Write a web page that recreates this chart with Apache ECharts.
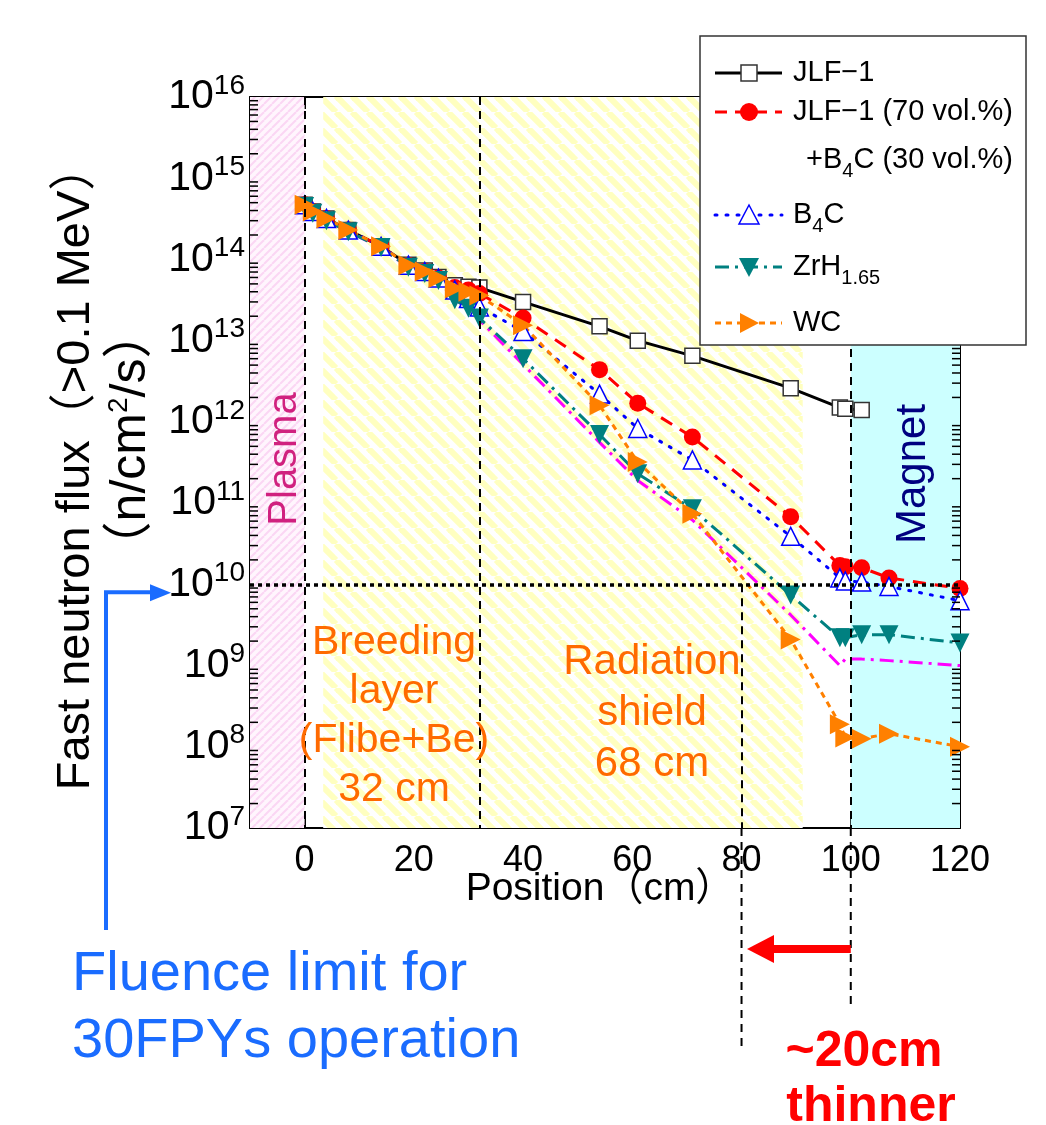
<!DOCTYPE html>
<html><head><meta charset="utf-8">
<script src="https://cdn.jsdelivr.net/npm/echarts@6/dist/echarts.min.js"></script>
<style>html,body{margin:0;padding:0;background:#fff}#c{width:1046px;height:1125px}</style>
</head><body><div id="c"></div>
<script>
// ---------------- data ----------------
const positions = [0, 1.5, 4, 8, 14, 19, 22, 24.5, 27.5, 30, 32, 40, 54, 61, 71, 89, 98, 99, 102, 107, 120];
const positionsJLF = [0, 1.5, 4, 8, 14, 19, 22, 24.5, 27.5, 30, 32, 40, 54, 61, 71, 89, 98, 99, 102];
const jlf1 =    [4.7e14, 3.9e14, 3.2e14, 2.3e14, 1.45e14, 8.6e13, 7.3e13, 6.1e13, 4.8e13, 4.6e13, 4.5e13, 3.0e13, 1.5e13, 1.0e13, 6.5e12, 2.6e12, 1.5e12, 1.45e12, 1.4e12];
const jlfB4c =  [4.7e14, 3.9e14, 3.2e14, 2.3e14, 1.45e14, 8.5e13, 7.1e13, 5.9e13, 4.5e13, 4.2e13, 3.8e13, 1.9e13, 4.4e12, 1.7e12, 6.5e11, 6.8e10, 1.7e10, 1.65e10, 1.6e10, 1.2e10, 8.9e9];
const b4c =     [4.7e14, 3.9e14, 3.2e14, 2.3e14, 1.45e14, 8.5e13, 7.1e13, 5.9e13, 4.2e13, 3.3e13, 2.6e13, 1.3e13, 2.2e12, 8.3e11, 3.4e11, 3.9e10, 1.2e10, 1.1e10, 1.07e10, 9.4e9, 6.3e9];
const zrh165 =  [4.5e14, 3.7e14, 3.0e14, 2.2e14, 1.4e14, 8.0e13, 6.7e13, 5.5e13, 3.2e13, 2.5e13, 1.9e13, 6.0e12, 7.0e11, 2.3e11, 8.5e10, 7.4e9, 2.2e9, 2.2e9, 2.4e9, 2.4e9, 1.9e9];
const unlabeled=[4.5e14, 3.7e14, 3.0e14, 2.2e14, 1.4e14, 8.0e13, 6.7e13, 5.5e13, 3.2e13, 2.5e13, 1.8e13, 5.1e12, 5.6e11, 1.9e11, 6.2e10, 4.2e9, 1.0e9, 1.2e9, 1.2e9, 1.15e9, 1.0e9];
const wc =      [4.7e14, 3.9e14, 3.2e14, 2.3e14, 1.45e14, 8.5e13, 7.1e13, 5.9e13, 4.4e13, 4.0e13, 3.6e13, 1.55e13, 1.6e12, 3.2e11, 7.4e10, 2.1e9, 1.9e8, 1.3e8, 1.26e8, 1.45e8, 1.0e8];
const yExponents = [7, 8, 9, 10, 11, 12, 13, 14, 15, 16];
const xTickLabels = [0, 20, 40, 60, 80, 100, 120];
const fluenceLimit = 1e10;

// ---------------- helpers ----------------
const pair = (xs, ys) => ys.map((v, i) => [xs[i], v]);
const minorVals = [];
yExponents.slice(0, -1).forEach(e => { for (let k = 2; k <= 9; k++) minorVals.push(k * Math.pow(10, e)); });

function stripes(P, bg, fg, dir, w) {
  const c = document.createElement('canvas');
  c.width = P; c.height = P;
  const g = c.getContext('2d');
  g.fillStyle = bg; g.fillRect(0, 0, P, P);
  g.strokeStyle = fg; g.lineWidth = w;
  for (let k = -1; k <= 1; k++) {
    g.beginPath();
    if (dir === 'back') { g.moveTo(k * P, 0); g.lineTo(k * P + P, P); }
    else { g.moveTo(k * P, P); g.lineTo(k * P + P, 0); }
    g.stroke();
  }
  return c;
}
const yellowPat = { image: stripes(16, '#ffffff', '#ffffc0', 'back', 6), repeat: 'repeat' };
const pinkPat = { image: stripes(8, '#fff5fd', '#fbd6f4', 'fwd', 2), repeat: 'repeat' };

const NARROW = "'Liberation Sans', Arial, sans-serif";
const SANS = "'Liberation Sans', Arial, 'Noto Sans CJK JP', sans-serif";

const chart = echarts.init(document.getElementById('c'), null, { renderer: 'canvas' });

const yAxisBase = {
  type: 'log', logBase: 10, min: 1e7, max: 1e16,
  axisLine: { show: true, onZero: false, lineStyle: { color: '#000', width: 2 } },
  axisTick: { show: true, inside: true, length: 14, lineStyle: { color: '#000', width: 2 } },
  splitLine: { show: false },
};

const option = {
  animation: false,
  backgroundColor: '#fff',
  grid: { left: 250, right: 86, top: 97, bottom: 297, containLabel: false },
  xAxis: [{
    type: 'value', min: -10, max: 120, interval: 10, position: 'bottom',
    axisLine: { onZero: false, lineStyle: { color: '#000', width: 2 } },
    axisTick: { inside: true, length: 12, lineStyle: { color: '#000', width: 2 } },
    splitLine: { show: false },
    axisLabel: {
      margin: 15, color: '#000', fontSize: 36, fontFamily: NARROW,
      formatter: v => (xTickLabels.indexOf(v) >= 0 ? String(v) : '')
    }
  }, {
    type: 'value', min: -10, max: 120, interval: 10, position: 'top',
    axisLine: { onZero: false, lineStyle: { color: '#000', width: 2 } },
    axisTick: { inside: true, length: 12, lineStyle: { color: '#000', width: 2 } },
    splitLine: { show: false }, axisLabel: { show: false }
  }],
  yAxis: [Object.assign({}, yAxisBase, {
    position: 'left',
    axisLabel: {
      margin: 5, color: '#000', fontFamily: NARROW,
      formatter: v => '{b|10}{s|' + Math.round(Math.log10(v)) + '}',
      rich: {
        b: { fontSize: 41, fontFamily: NARROW, color: '#000' },
        s: { fontSize: 28, fontFamily: NARROW, color: '#000', verticalAlign: 'bottom', padding: [0, 0, 22, 0] }
      }
    }
  }), Object.assign({}, yAxisBase, { position: 'right', axisLabel: { show: false } })],
  series: [
    {
      name: 'bg', type: 'line', data: [], z: 1, silent: true,
      markArea: {
        silent: true,
        data: [
          [{ coord: [-10, 1e16], itemStyle: { color: pinkPat } }, { coord: [0, 1e7] }],
          [{ coord: [3.4, 1e16], itemStyle: { color: yellowPat } }, { coord: [91.2, 1e7] }],
          [{ coord: [100, 1e16], itemStyle: { color: '#ccffff' } }, { coord: [120, 1e7] }]
        ]
      },
      markLine: {
        silent: true, symbol: 'none', label: { show: false },
        lineStyle: { color: '#000', width: 2, type: [8, 6] },
        data: [
          [{ coord: [0, 1e16] }, { coord: [0, 1e7] }],
          [{ coord: [32, 1e16] }, { coord: [32, 1e7] }],
          [{ coord: [100, 1e16] }, { coord: [100, 1e7] }],
          [{ coord: [80, fluenceLimit] }, { coord: [80, 1e7] }],
          [{ coord: [-10, fluenceLimit], lineStyle: { width: 3.5, type: [4, 4] } }, { coord: [120, fluenceLimit] }]
        ]
      }
    },
    {
      type: 'custom', silent: true, z: 6,
      data: minorVals.map(v => [-10, v]),
      encode: { x: 0, y: 1 },
      renderItem: (params, api) => {
        const l = api.coord([-10, api.value(1)]);
        const r = api.coord([120, api.value(1)]);
        return { type: 'group', children: [
          { type: 'line', shape: { x1: l[0], y1: l[1], x2: l[0] + 8, y2: l[1] }, style: { stroke: '#000', lineWidth: 1.5 } },
          { type: 'line', shape: { x1: r[0] - 8, y1: r[1], x2: r[0], y2: r[1] }, style: { stroke: '#000', lineWidth: 1.5 } }
        ] };
      }
    },
    {
      name: 'JLF-1', type: 'line', data: pair(positionsJLF, jlf1), z: 3,
      symbol: 'rect', symbolSize: 15,
      itemStyle: { color: '#fff', borderColor: '#333', borderWidth: 1.5 },
      lineStyle: { color: '#000', width: 3 }
    },
    {
      name: 'JLF-1 (70 vol.%) +B4C (30 vol.%)', type: 'line', data: pair(positions, jlfB4c), z: 3,
      symbol: 'circle', symbolSize: 17,
      itemStyle: { color: '#ff0000' },
      lineStyle: { color: '#ff0000', width: 3, type: [13, 9] }
    },
    {
      name: 'B4C', type: 'line', data: pair(positions, b4c), z: 3,
      symbol: 'triangle', symbolSize: 18,
      itemStyle: { color: '#fff', borderColor: '#0000ff', borderWidth: 1.5 },
      lineStyle: { color: '#0000ff', width: 3, type: [2, 9], cap: 'round' }
    },
    {
      name: 'unlabeled', type: 'line', data: pair(positions, unlabeled), z: 3,
      symbol: 'none',
      lineStyle: { color: '#ff00ff', width: 3, type: [14, 6, 3, 6] }
    },
    {
      name: 'ZrH1.65', type: 'line', data: pair(positions, zrh165), z: 3,
      symbol: 'triangle', symbolRotate: 180, symbolSize: 19,
      itemStyle: { color: '#008080' },
      lineStyle: { color: '#008080', width: 3, type: [14, 6, 3, 6] }
    },
    {
      name: 'WC', type: 'line', data: pair(positions, wc), z: 3,
      symbol: 'triangle', symbolRotate: -90, symbolSize: 20,
      itemStyle: { color: '#ff8000' },
      lineStyle: { color: '#ff8000', width: 3, type: [6, 5] }
    }
  ]
};
chart.setOption(option);

// ---------------- annotations ----------------
const p80 = chart.convertToPixel({ gridIndex: 0 }, [80, 1e7]);
const p100 = chart.convertToPixel({ gridIndex: 0 }, [100, 1e7]);
const pLim = chart.convertToPixel({ gridIndex: 0 }, [-10, fluenceLimit]);
const orange = '#ff6a00';
const dash = { stroke: '#000', lineWidth: 2, lineDash: [8, 6] };

const legendX = 715, legendMarkX = 749, legendTextX = 793;
const legendRows = [
  { y: 73, line: { stroke: '#000', lineWidth: 3 }, text: 'JLF−1' },
  { y: 112, line: { stroke: '#ff0000', lineWidth: 3, lineDash: [12, 8] }, text: 'JLF−1 (70 vol.%)' },
  { y: 215, line: { stroke: '#0000ff', lineWidth: 3, lineDash: [2, 9], lineCap: 'round' }, text: 'B{sub|4}C' },
  { y: 267, line: { stroke: '#008080', lineWidth: 3, lineDash: [14, 6, 3, 6] }, text: 'ZrH{sub|1.65}' },
  { y: 323, line: { stroke: '#ff8000', lineWidth: 3, lineDash: [6, 5] }, text: 'WC' }
];
const legRich = { sub: { fontSize: 20, fontFamily: SANS, verticalAlign: 'top', padding: [22, 0, 0, 0] } };
const g = [];
g.push({ type: 'rect', z: 50, shape: { x: 700, y: 36, width: 326, height: 309 }, style: { fill: '#fff', stroke: '#333', lineWidth: 1.5 } });
legendRows.forEach(r => {
  g.push({ type: 'line', z: 51, shape: { x1: legendX, y1: r.y, x2: legendX + 67, y2: r.y }, style: r.line });
  g.push({ type: 'text', z: 52, x: legendTextX, y: r.y, style: { text: r.text, font: '29px ' + SANS, fill: '#000', verticalAlign: 'middle', rich: legRich } });
});
g.push({ type: 'text', z: 52, x: 806, y: 160, style: { text: '+B{sub|4}C (30 vol.%)', font: '29px ' + SANS, fill: '#000', verticalAlign: 'middle', rich: legRich } });
g.push({ type: 'rect', z: 53, shape: { x: legendMarkX - 8, y: 65, width: 16, height: 16 }, style: { fill: '#fff', stroke: '#333', lineWidth: 1.5 } });
g.push({ type: 'circle', z: 53, shape: { cx: legendMarkX, cy: 112, r: 9 }, style: { fill: '#ff0000' } });
g.push({ type: 'polygon', z: 53, shape: { points: [[legendMarkX, 205], [legendMarkX - 10, 224], [legendMarkX + 10, 224]] }, style: { fill: '#fff', stroke: '#0000ff', lineWidth: 1.5 } });
g.push({ type: 'polygon', z: 53, shape: { points: [[legendMarkX - 10, 258], [legendMarkX + 10, 258], [legendMarkX, 277]] }, style: { fill: '#008080' } });
g.push({ type: 'polygon', z: 53, shape: { points: [[legendMarkX - 9, 313], [legendMarkX - 9, 333], [legendMarkX + 10, 323]] }, style: { fill: '#ff8000' } });

// dashed extensions below the plot
g.push({ type: 'line', z: 10, shape: { x1: p80[0], y1: p80[1], x2: p80[0], y2: 1047 }, style: dash });
g.push({ type: 'line', z: 10, shape: { x1: p100[0], y1: p100[1], x2: p100[0], y2: 1008 }, style: dash });

// red arrow
g.push({ type: 'rect', z: 10, shape: { x: 770, y: 945, width: p100[0] - 770, height: 8 }, style: { fill: '#ff0000' } });
g.push({ type: 'polygon', z: 10, shape: { points: [[747, 949], [774, 935], [774, 963]] }, style: { fill: '#ff0000' } });
// blue arrow
g.push({ type: 'polyline', z: 10, shape: { points: [[106, 930], [106, pLim[1] + 8], [152, pLim[1] + 8]] }, style: { stroke: '#1a6cff', lineWidth: 4, fill: null } });
g.push({ type: 'polygon', z: 10, shape: { points: [[150, pLim[1]], [150, pLim[1] + 17], [171, pLim[1] + 8.5]] }, style: { fill: '#1a6cff' } });

// region labels
g.push({ type: 'text', z: 20, x: 285, y: 459, rotation: Math.PI / 2, style: { text: 'Plasma', font: '40px ' + SANS, fill: '#d0217f', align: 'center', verticalAlign: 'middle' } });
g.push({ type: 'text', z: 20, x: 913, y: 474, rotation: Math.PI / 2, style: { text: 'Magnet', font: '42px ' + SANS, fill: '#000080', align: 'center', verticalAlign: 'middle' } });
g.push({ type: 'text', z: 20, x: 394, y: 716, style: { text: 'Breeding\nlayer\n(Flibe+Be)\n32 cm', font: '41px ' + SANS, fill: orange, align: 'center', verticalAlign: 'middle', lineHeight: 49 } });
g.push({ type: 'text', z: 20, x: 652, y: 713, style: { text: 'Radiation\nshield\n68 cm', font: '42px ' + SANS, fill: orange, align: 'center', verticalAlign: 'middle', lineHeight: 51 } });

// axis titles
g.push({ type: 'text', z: 20, x: 600, y: 889, style: { text: 'Position（cm）', font: '39px ' + SANS, fill: '#000', align: 'center', verticalAlign: 'middle' } });
g.push({ type: 'text', z: 20, x: 76, y: 467, rotation: Math.PI / 2, style: { text: 'Fast neutron flux（>0.1 MeV）', font: '47px ' + SANS, fill: '#000', align: 'center', verticalAlign: 'middle' } });
g.push({ type: 'text', z: 20, x: 131, y: 440, rotation: Math.PI / 2, style: { text: '（n/cm{sup|2}/s）', font: '50px ' + SANS, fill: '#000', align: 'center', verticalAlign: 'middle', rich: { sup: { fontSize: 28, fontFamily: SANS, verticalAlign: 'bottom', padding: [0, 0, 24, 0] } } } });

// fluence / thinner texts
g.push({ type: 'text', z: 20, x: 72, y: 975, style: { text: 'Fluence limit for', font: '56px ' + SANS, fill: '#1a6cff', verticalAlign: 'middle' } });
g.push({ type: 'text', z: 20, x: 72, y: 1042, style: { text: '30FPYs operation', font: '56px ' + SANS, fill: '#1a6cff', verticalAlign: 'middle' } });
g.push({ type: 'text', z: 20, x: 864, y: 1052, style: { text: '~20cm', font: 'bold 50px ' + SANS, fill: '#ff0000', align: 'center', verticalAlign: 'middle' } });
g.push({ type: 'text', z: 20, x: 871, y: 1107, style: { text: 'thinner', font: 'bold 50px ' + SANS, fill: '#ff0000', align: 'center', verticalAlign: 'middle' } });

chart.setOption({ graphic: { elements: g } });
</script>
</body></html>
